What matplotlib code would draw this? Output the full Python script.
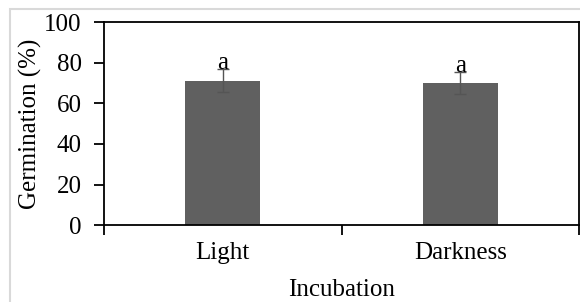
import matplotlib
matplotlib.use("Agg")
import matplotlib.pyplot as plt
from matplotlib.patches import Rectangle
import numpy as np

categories = ["Light", "Darkness"]
germination = [71.3, 70.1]
errors = [5.6, 5.3]
letters = ["a", "a"]
y_ticks = [0, 20, 40, 60, 80, 100]

plt.rcParams['font.family'] = ['Liberation Serif', 'DejaVu Serif']
FS = 18

fig = plt.figure(figsize=(5.8, 3.02), dpi=100)
ax = fig.add_axes([104/580, (302-225)/302, (579-104)/580, (225-22.5)/302])

x = np.arange(len(categories))
ax.bar(x, germination, width=0.316, color="#606060", zorder=2)
ax.errorbar(x, germination, yerr=errors, fmt="none", ecolor="#555555",
            elinewidth=1.0, capsize=4, capthick=1.0, zorder=3)
for xi, m, e, t in zip(x, germination, errors, letters):
    ax.text(xi, m + e, t, ha="center", va="baseline", fontsize=FS, zorder=4)

ax.set_xlim(-0.5, len(categories) - 0.5)
ax.set_ylim(0, 100)
ax.set_yticks(y_ticks)
ax.set_xticks(x)
ax.set_xticklabels(categories, fontsize=FS)
ax.set_xticks(np.arange(len(categories) + 1) - 0.5, minor=True)
ax.tick_params(axis="x", which="major", length=0, pad=12)
ax.tick_params(axis="x", which="minor", length=7, width=1.3, direction="out")
ax.tick_params(axis="y", length=7, width=1.3, direction="out", labelsize=FS, pad=9)
for s in ax.spines.values():
    s.set_linewidth(1.3)
    s.set_color("black")

ax.set_xlabel("Incubation", fontsize=FS, labelpad=11)
ax.set_ylabel("Germination (%)", fontsize=FS)
ax.yaxis.set_label_coords(-0.13, 0.5)

fig.patches.append(Rectangle((9.5/580, -0.1), 1.2, (302-8.5)/302 + 0.1,
                             transform=fig.transFigure, fill=False,
                             edgecolor="#d9d9d9", linewidth=1.5, zorder=0))

fig.savefig("out.png", dpi=100)
